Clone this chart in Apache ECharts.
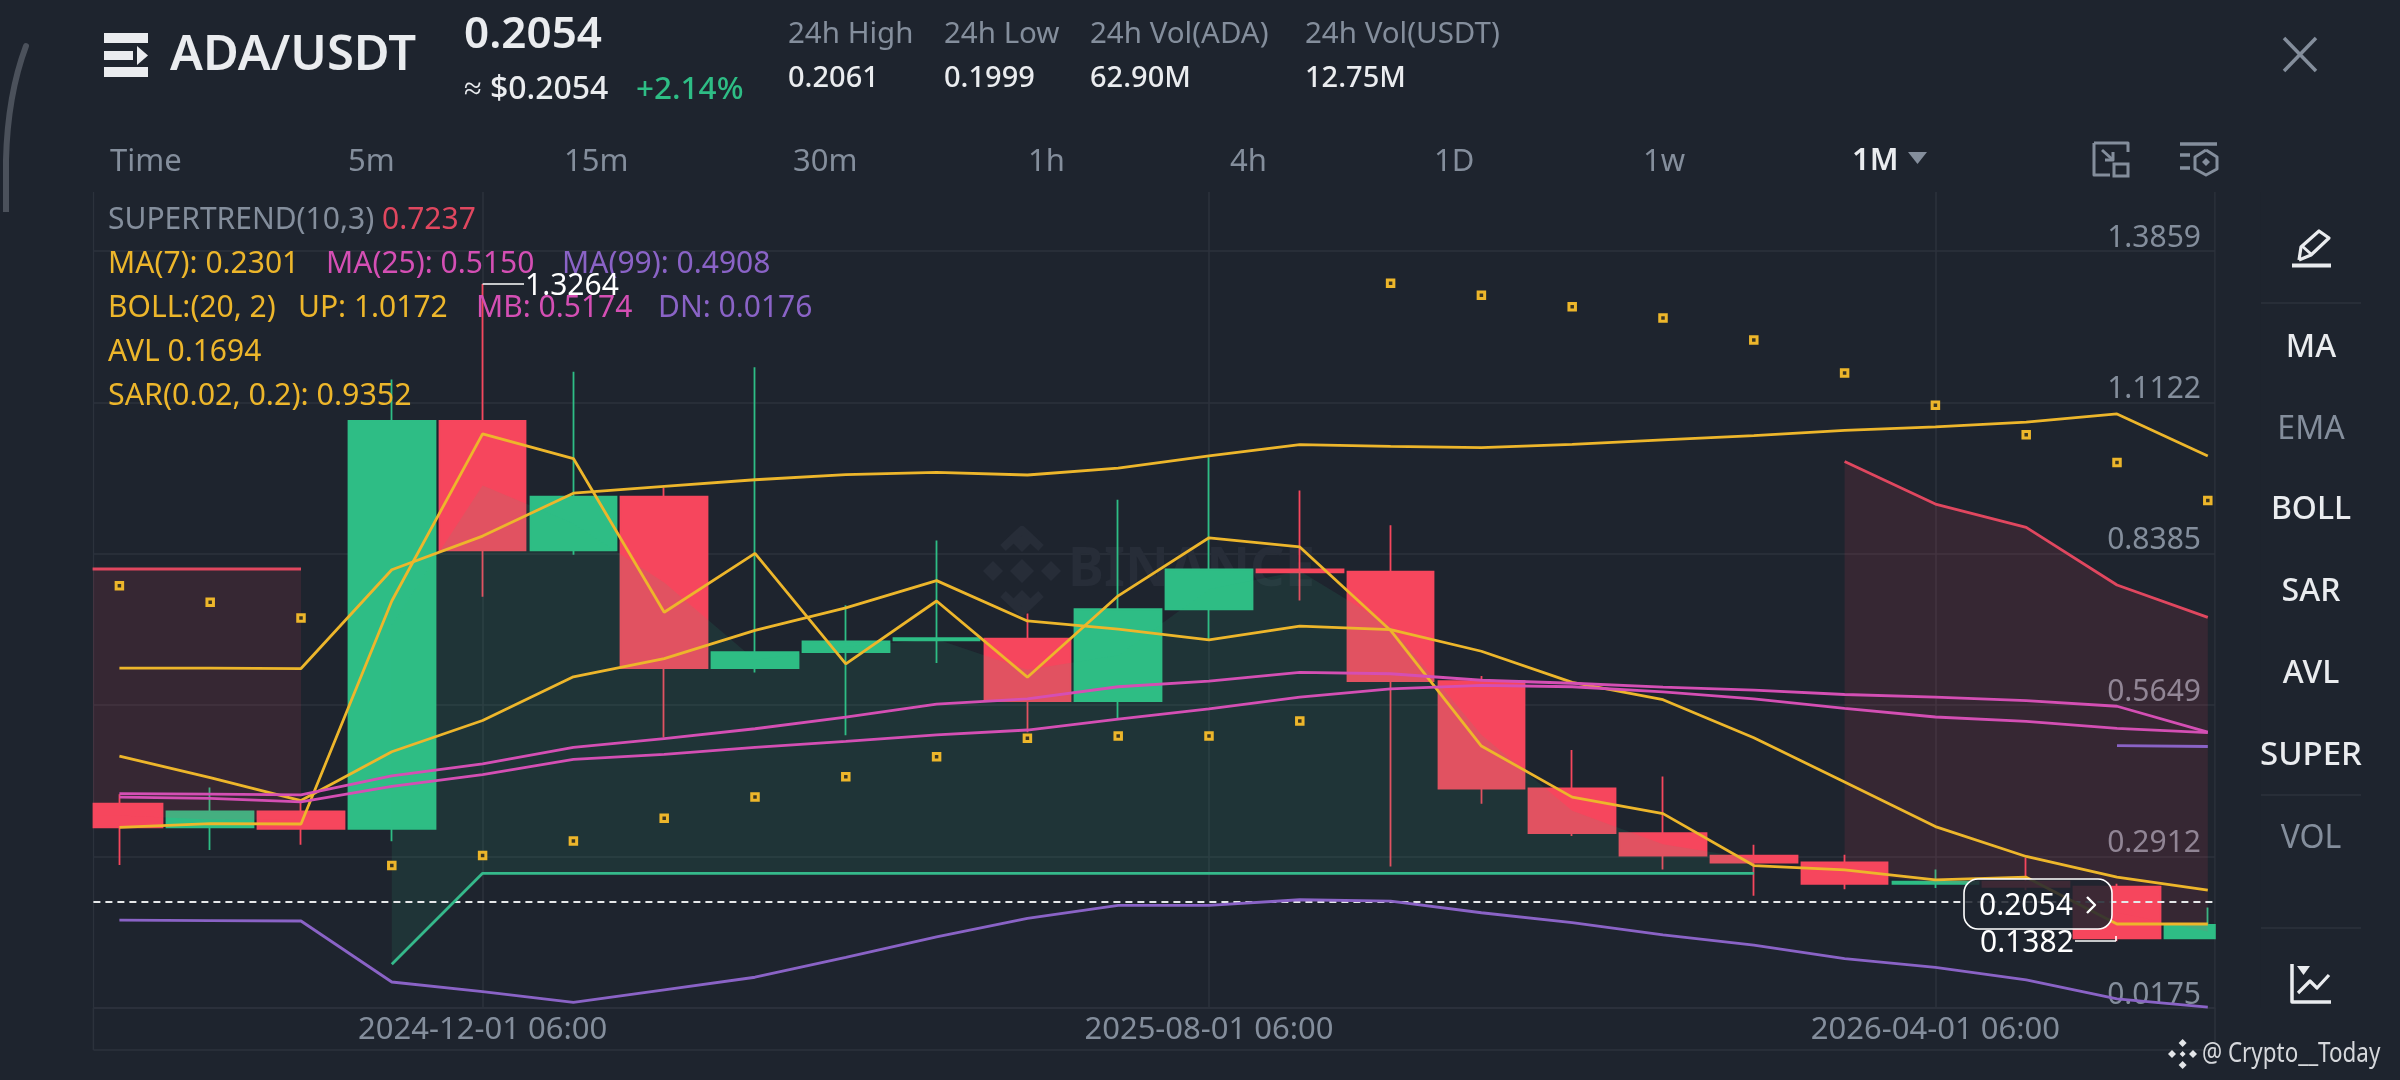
<!DOCTYPE html>
<html><head><meta charset="utf-8"><title>ADA/USDT</title>
<script src="https://cdn.jsdelivr.net/npm/echarts@6/dist/echarts.min.js"></script>
<style>html,body{margin:0;padding:0;background:#1E242E;overflow:hidden}#c{width:2400px;height:1080px}</style>
</head><body><div id="c"></div><script>
const dateTicks = {4:'2024-12-01 06:00',12:'2025-08-01 06:00',20:'2026-04-01 06:00'};
const priceTicks = [1.3859,1.1122,0.8385,0.5649,0.2912,0.0175];
const lastPrice = 0.2054;
const opens  = [.3869,.3439,.3728,.3415,1.0788,.8448,.9418,.6319,.6609,.6820,.6851,.5724,.7383,.8103,.8064,.6084,.4143,.3337,.2930,.2805,.2421,.2460,.2367,.1435];
const closes = [.3439,.3728,.3415,1.0788,.8448,.9418,.6319,.6609,.6804,.6859,.5724,.7383,.8103,.8049,.6084,.4143,.3337,.2930,.2805,.2421,.2460,.2367,.1435,.1678];
const lows   = [.2758,.3032,.3126,.3188,.7610,.8370,.5059,.6241,.5106,.6413,.5161,.5395,.6843,.7540,.2734,.3869,.3282,.2680,.2202,.2320,.2343,.2304,.1382,.1419];
const highs  = [.4041,.4159,.3908,1.1538,1.3264,1.1676,.9583,1.1759,.7454,.8628,.7305,.9364,1.0131,.9528,.8902,.6178,.4840,.4362,.3126,.2946,.2680,.2891,.2421,.1991];
const ma7Line = [.3439,.3509,.3501,.7532,1.0553,1.0107,.7329,.8393,.6397,.7532,.6155,.7626,.8675,.8510,.7000,.4910,.3987,.3689,.2750,.2672,.2492,.2539,.1693,.1693];
const bollUp = [.6319,.6319,.6311,.8096,.8706,.9481,.9606,.9724,.9817,.9857,.9810,.9935,1.0154,1.0358,1.0326,1.0303,1.0365,1.0444,1.0522,1.0616,1.0678,1.0764,1.0913,1.0154];
const avlLine = [.4730,.4339,.3924,.4808,.5372,.6162,.6491,.7000,.7407,.7900,.7172,.7023,.6828,.7078,.7015,.6624,.6061,.5748,.5059,.4261,.3454,.2914,.2539,.2304];
const bollMid = [.4049,.4041,.4026,.4370,.4589,.4887,.5043,.5223,.5435,.5669,.5763,.5982,.6084,.6241,.6217,.6100,.6045,.5975,.5920,.5842,.5795,.5732,.5630,.5161];
const ma25 = [.3987,.3963,.3901,.4182,.4394,.4668,.4761,.4887,.4996,.5114,.5200,.5395,.5583,.5795,.5943,.6006,.5982,.5889,.5763,.5591,.5435,.5356,.5231,.5153];
const bollDn = [.1764,.1756,.1748,.0645,.0472,.0277,.0504,.0731,.1091,.1459,.1795,.2030,.2030,.2132,.2108,.1897,.1717,.1498,.1310,.1067,.0911,.0684,.0339,.0191];
const ma99X = [22,23];
const ma99 = [.4918,.4902];
const sar = [.7806,.7509,.7227,.2750,.2930,.3196,.3603,.3987,.4354,.4715,.5051,.5090,.5090,.5364,1.3275,1.3058,1.2852,1.2648,1.2250,1.1654,1.1070,1.0538,1.0037,.9348];
const trendDownAX = [-1,0,1,2];
const trendDownA = [.8111,.8111,.8111,.8111];
const trendUpX = [3,4,5,6,7,8,9,10,11,12,13,14,15,16,17,18];
const trendUp = [.0966,.2609,.2609,.2609,.2609,.2609,.2609,.2609,.2609,.2609,.2609,.2609,.2609,.2609,.2609,.2609];
const trendDownBX = [19,20,21,22,23];
const trendDownB = [1.0052,.9285,.8863,.7822,.7235];

const BG='#1E242E', GRID='#2C323C', GRAY='#848E9C', WHITE='#EAECEF', YEL='#EDB62B', PINK='#D44FB4', PUR='#8A63C6', RED='#F6465D', GRN='#2EBD85';
const FF='"Noto Sans"';
const L=93.4,R=2215,T=192,B=1008;
const yMin=0.0175, yMax=yMin+(B-T)/553.2;
const xMin=(L-119.4)/90.8, xMax=(R-119.4)/90.8;
const idx=opens.map((_,i)=>i);
const pts=(xs,ys)=>xs.map((x,i)=>[x,ys[i]]);
const body=i=>(opens[Math.max(i,0)]+closes[Math.max(i,0)])/2;

function lineS(name,data,color,z,w){return {name,type:'line',data,symbol:'none',showSymbol:false,z:z||5,animation:false,silent:true,lineStyle:{color,width:w||2.8},itemStyle:{color}};}
function band(name,xs,trend,color){ // filled band between the trend line and the candle body middles
  const data=xs.map((x,i)=>[x,trend[i],body(x)]);
  return {name,type:'custom',data,z:3,clip:true,animation:false,silent:true,encode:{x:0,y:[1,2]},
    renderItem(params,api){
      if(params.dataIndex!==0) return null;
      const a=data.map(d=>api.coord([d[0],d[1]])), b=data.map(d=>api.coord([d[0],d[2]])).reverse();
      return {type:'polygon',shape:{points:a.concat(b)},style:{fill:color}};
    }};
}
const RF='rgba(246,70,93,0.115)', GF='rgba(46,189,133,0.105)';
const series=[
 {name:'ADA/USDT',type:'candlestick',barWidth:87,data:idx.map(i=>[i,opens[i],closes[i],lows[i],highs[i]]),z:2,animation:false,silent:true,
  itemStyle:{color:GRN,color0:RED,borderColor:GRN,borderColor0:RED,borderWidth:1.8},
  markLine:{silent:true,symbol:'none',animation:false,label:{show:false},data:[{yAxis:lastPrice}],lineStyle:{color:'#E6E8EA',type:[7,5],width:1.8}}},
 band('Supertrend fill 1',trendDownAX,trendDownA,RF),
 band('Supertrend fill 2',trendUpX,trendUp,GF),
 band('Supertrend fill 3',trendDownBX,trendDownB,RF),
 lineS('SUPERTREND down',pts(trendDownAX,trendDownA),'#E0475F'),
 lineS('SUPERTREND up',pts(trendUpX,trendUp),'#35B98B'),
 lineS('SUPERTREND down 2',pts(trendDownBX,trendDownB),'#E0475F'),
 lineS('MA7',pts(idx,ma7Line),YEL),
 lineS('UP',pts(idx,bollUp),YEL),
 lineS('AVL',pts(idx,avlLine),YEL),
 lineS('MB',pts(idx,bollMid),PINK),
 lineS('MA25',pts(idx,ma25),PINK),
 lineS('DN',pts(idx,bollDn),PUR),
 lineS('MA99',pts(ma99X,ma99),PUR),
 {name:'SAR',type:'scatter',data:pts(idx,sar),symbol:'rect',symbolSize:6.5,z:6,animation:false,silent:true,itemStyle:{color:'#3a3420',borderColor:'#EDB62B',borderWidth:3,opacity:1}}
];

// --- page furniture ----------------------------------------------------
function tx(text,x,y,fill,size,opt){opt=opt||{};return {type:'text',z:opt.z||50,silent:true,style:{text,x,y,fill,font:(opt.w||400)+' '+size+'px '+FF,align:opt.a||'left',verticalAlign:'middle'}};}
function ln(x1,y1,x2,y2,stroke,w,z){return {type:'line',z:z==null?50:z,silent:true,shape:{x1,y1,x2,y2},style:{stroke,lineWidth:w}};}
function pl(points,stroke,w,extra){return {type:'polyline',z:50,silent:true,shape:{points},style:Object.assign({stroke,lineWidth:w,fill:null,lineJoin:'round'},extra||{})};}
function pg(points,fill,z){return {type:'polygon',z:z||50,silent:true,shape:{points},style:{fill}};}
function rc(x,y,width,height,fill,extra,r,z){return {type:'rect',z:z||50,silent:true,shape:{x,y,width,height,r:r||0},style:Object.assign({fill},extra||{})};}
function dmd(cx,cy,r,fill,z){return pg([[cx,cy-r],[cx+r,cy],[cx,cy+r],[cx-r,cy]],fill,z);}

const g=[
 // candle overflow masks at the plot's left and right edges
 rc(0,T,L-0.8,B-T,BG,null,0,10),rc(R+0.8,T,45,B-T,BG,null,0,10),
 {type:'bezierCurve',z:50,silent:true,shape:{x1:26,y1:46,cpx1:14,cpy1:78,cpx2:7,cpy2:120,x2:6,y2:160},style:{stroke:'#4B515B',lineWidth:6,fill:null,lineCap:'round'}},
 ln(6,160,6,212,'#4B515B',6),
 rc(104,33,44,10,WHITE),rc(104,51,29,9,WHITE),pg([[137,46],[148,55.5],[137,65]],WHITE),rc(104,67,44,10,WHITE),
 tx('ADA/USDT',170,56,WHITE,49,{w:600}),
 tx('0.2054',464,35,WHITE,44,{w:600}),
 tx('≈ $0.2054',464,90,WHITE,32,{w:500}),
 tx('+2.14%',636,90,GRN,31.5,{w:500}),
 tx('24h High',788,35,GRAY,29.5),tx('0.2061',788,79,WHITE,29,{w:500}),
 tx('24h Low',944,35,GRAY,29.5),tx('0.1999',944,79,WHITE,29,{w:500}),
 tx('24h Vol(ADA)',1090,35,GRAY,29.5),tx('62.90M',1090,79,WHITE,29,{w:500}),
 tx('24h Vol(USDT)',1305,35,GRAY,29.5),tx('12.75M',1305,79,WHITE,29,{w:500}),
 ln(2284,38,2316,71,GRAY,3.5),ln(2316,38,2284,71,GRAY,3.5),
 tx('Time',110,162,GRAY,31),tx('5m',348,162,GRAY,31),tx('15m',564,162,GRAY,31),tx('30m',793,162,GRAY,31),tx('1h',1028,162,GRAY,31),tx('4h',1230,162,GRAY,31),tx('1D',1434,162,GRAY,31),tx('1w',1643,162,GRAY,31),
 tx('1M',1852,161,WHITE,31,{w:600}),pg([[1908,152],[1927,152],[1917.5,164]],GRAY),
 pl([[2110,143],[2128,143],[2128,152]],GRAY,3),pl([[2094,143],[2094,175],[2110,175]],GRAY,3),pl([[2094,143],[2110,143]],GRAY,3),
 rc(2114,164,14,12,'rgba(0,0,0,0)',{stroke:GRAY,lineWidth:3}),pl([[2102,150],[2113,160]],GRAY,3),pl([[2105,160],[2113,160],[2113,152]],GRAY,3),
 ln(2180,144,2217,144,GRAY,3.5),ln(2180,155,2190,155,GRAY,3.5),ln(2180,168,2190,168,GRAY,3.5),
 pl([[2206,150],[2217,157],[2217,169],[2206,175],[2195,169],[2195,157],[2206,150]],GRAY,3),dmd(2206,162,4,GRAY),
 // frame
 ln(L,T,L,1050,GRID,1.5,0),ln(R,T,R,1050,GRID,1.5,0),ln(L,1050,R,1050,GRID,1.5,0),
 // watermark
 dmd(1022,542,10,'#272D38',1),dmd(1022,600,10,'#272D38',1),dmd(993,571,10,'#272D38',1),dmd(1051,571,10,'#272D38',1),dmd(1022,571,12,'#272D38',1),
 pl([[1003,548],[1022,530],[1041,548]],'#272D38',8),pl([[1003,594],[1022,612],[1041,594]],'#272D38',8),
 {type:'text',z:1,silent:true,style:{text:'BINANCE',x:1068,y:571,fill:'#272D38',font:'700 54px '+FF,align:'left',verticalAlign:'middle'}},
 // indicator legend
 tx('SUPERTREND(10,3)',108,220,GRAY,30),tx('0.7237',382,220,'#E0475F',30),
 tx('MA(7): 0.2301',108,264,YEL,30),tx('MA(25): 0.5150',326,264,PINK,30),tx('MA(99): 0.4908',562,264,PUR,30),
 tx('BOLL:(20, 2)',108,308.5,YEL,30),tx('UP: 1.0172',298,308.5,YEL,30),tx('MB: 0.5174',476,308.5,PINK,30),tx('DN: 0.0176',658,308.5,PUR,30),
 tx('AVL 0.1694',108,352,YEL,30),
 tx('SAR(0.02, 0.2): 0.9352',108,396,YEL,30.4),
 // extreme labels
 ln(482.6,284,524,284,'#FFFFFF',1.6),tx('1.3264',525,286,'#FFFFFF',30),
 // last price pill
 rc(1964,879,148,50,'rgba(30,36,46,0.86)',{stroke:'#FFFFFF',lineWidth:1.6},14,60),
 Object.assign(tx('0.2054',1979,906,'#FFFFFF',30),{z:61}),
 Object.assign(pl([[2087,897],[2095,905],[2087,913]],'#FFFFFF',2.4),{z:61}),
 ln(2075,941,2116,941,'#FFFFFF',1.6),ln(2116,936,2116,941,'#FFFFFF',1.6),tx('0.1382',1980,943,'#FFFFFF',30),
 // side menu
 pl([[2299,260],[2301,247],[2319,231],[2329,238],[2311,255],[2299,260]],WHITE,3.2),ln(2302,246,2311,254,WHITE,3),ln(2292,265.5,2331,265.5,WHITE,4.2),
 ln(2261,303,2361,303,GRID,1.5),
 tx('MA',2311,348,WHITE,32,{a:'center',w:500}),tx('EMA',2311,429.5,GRAY,32,{a:'center'}),tx('BOLL',2311,510,WHITE,32,{a:'center',w:500}),tx('SAR',2311,592,WHITE,32,{a:'center',w:500}),tx('AVL',2311,674,WHITE,32,{a:'center',w:500}),tx('SUPER',2311,756,WHITE,33,{a:'center',w:500}),
 ln(2261,795,2361,795,GRID,1.5),
 tx('VOL',2311,839,GRAY,32,{a:'center'}),
 ln(2261,928,2361,928,GRID,1.5),
 pl([[2292,964],[2292,1002],[2331,1002]],WHITE,3.5),pl([[2298,993],[2310,981],[2317,988],[2329,975]],WHITE,3.2),pg([[2297,966],[2310,966],[2303.5,975]],WHITE),
 // credit
 dmd(2182.6,1043,4,'#E4E6E9'),dmd(2182.6,1065,4,'#E4E6E9'),dmd(2172,1054,4,'#E4E6E9'),dmd(2193,1054,4,'#E4E6E9'),dmd(2182.6,1054,3,'#E4E6E9'),
 Object.assign(tx('@ Crypto__Today',0,0,'#D6D8DC',28),{x:2202,y:1054,scaleX:0.8})
];

const chart=echarts.init(document.getElementById('c'),null,{renderer:'canvas'});
chart.setOption({
 backgroundColor:BG,animation:false,
 grid:{left:L,right:2400-R,top:T,bottom:1080-B,containLabel:false},
 xAxis:{type:'value',min:xMin,max:xMax,axisLine:{onZero:false,lineStyle:{color:GRID,width:1.5}},
  axisTick:{show:false,customValues:[4,12,20]},
  splitLine:{show:true,customValues:[4,12,20],lineStyle:{color:GRID,width:1.5}},
  axisLabel:{customValues:[4,12,20],color:GRAY,fontSize:31,fontFamily:FF,margin:7,formatter:v=>dateTicks[Math.round(v)]||''}},
 yAxis:{type:'value',position:'right',min:yMin,max:yMax,scale:true,axisLine:{show:false},
  axisTick:{show:false,customValues:priceTicks},
  splitLine:{show:true,customValues:priceTicks,lineStyle:{color:GRID,width:1.5}},
  axisLabel:{inside:true,customValues:priceTicks,color:GRAY,fontSize:30,lineHeight:26,fontFamily:FF,margin:14,verticalAlign:'bottom',formatter:v=>v.toFixed(4)}},
 series,
 graphic:{elements:g}
});
</script></body></html>
